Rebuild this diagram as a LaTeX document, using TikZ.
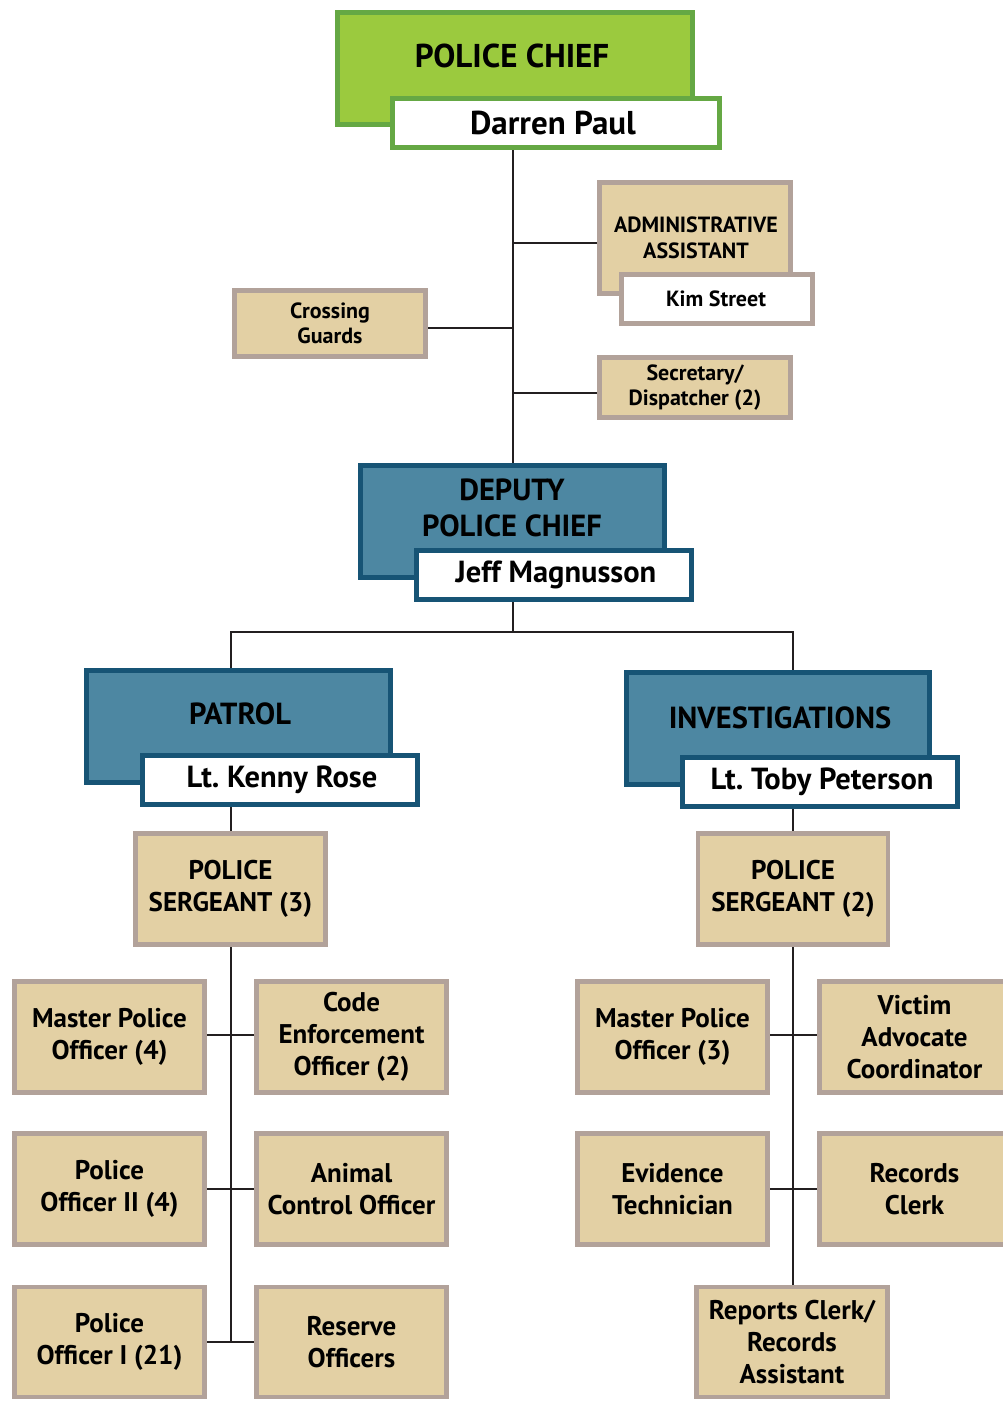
\documentclass[tikz,border=0pt]{standalone}
\usepackage{fontspec}
\setmainfont{PT Sans}
\usetikzlibrary{backgrounds}
\begin{document}
\definecolor{chieffill}{HTML}{9BCA3E}
\definecolor{chiefedge}{HTML}{65A844}
\definecolor{unitfill}{HTML}{4D87A2}
\definecolor{unitedge}{HTML}{175475}
\definecolor{stafffill}{HTML}{E3D0A4}
\definecolor{staffedge}{HTML}{B2A29A}
\definecolor{wire}{HTML}{231F20}
\begin{tikzpicture}[x=1pt,y=-1pt,
  every node/.style={inner sep=0pt,font=\bfseries,text=black},
  box/.style n args={2}{rectangle,minimum width=#1,minimum height=#2},
  chiefbox/.style={fill=chieffill,draw=chiefedge,line width=5pt},
  chiefname/.style={fill=white,draw=chiefedge,line width=4.5pt},
  unitbox/.style={fill=unitfill,draw=unitedge,line width=5pt},
  unitname/.style={fill=white,draw=unitedge,line width=4.5pt},
  staffbox/.style={fill=stafffill,draw=staffedge,line width=4.5pt,align=center},
  staffname/.style={fill=white,draw=staffedge,line width=4.5pt},
  bigtext/.style={font=\fontsize{33}{36}\selectfont\bfseries,align=center},
  unittext/.style={font=\fontsize{30.5}{36}\selectfont\bfseries,align=center},
  midtext/.style={font=\fontsize{27}{32}\selectfont\bfseries},
  smalltext/.style={font=\fontsize{22}{25.5}\selectfont\bfseries},
  wires/.style={draw=wire,line width=2pt}]
\useasboundingbox (0,0) rectangle (1003,1401);

% ---- boxes ----
\node[chiefbox,box={355}{112}] (chief) at (515,68.5) {};
\node[chiefname,box={327}{49}] (darren) at (556,123) {};
\node[bigtext] (chieft) at (512,56) {POLICE CHIEF};
\node[bigtext] (darrent) at (553,123) {Darren Paul};

\node[staffbox,box={191}{111}] (admin) at (695,238) {};
\node[smalltext,align=center] (admint) at (696,238) {ADMINISTRATIVE\\ASSISTANT};
\node[staffname,box={191}{49}] (kim) at (717,299) {};
\node[smalltext] (kimt) at (716,299) {Kim Street};

\node[staffbox,box={191}{66},smalltext] (guards) at (330,323.5) {Crossing\\Guards};
\node[staffbox,box={191}{60},smalltext] (secretary) at (695,387.5) {Secretary/\\Dispatcher (2)};

\node[unitbox,box={304}{112}] (deputy) at (512.5,521.5) {};
\node[unitname,box={275}{49}] (jeff) at (554,575) {};
\node[unittext] (deputyt) at (512,508) {DEPUTY\\POLICE CHIEF};
\node[unittext] (jefft) at (556,575) {Jeff Magnusson};

\node[unitbox,box={304}{112}] (patrol) at (238.5,726.5) {};
\node[unitname,box={275}{49}] (kenny) at (280,780) {};
\node[unittext] (patrolt) at (240,714) {PATROL};
\node[unittext] (kennyt) at (282,780) {Lt.\ Kenny Rose};

\node[unitbox,box={303}{112}] (invest) at (778,728.5) {};
\node[unitname,box={275}{49}] (toby) at (820,782) {};
\node[unittext] (investt) at (780,718) {INVESTIGATIONS};
\node[unittext] (tobyt) at (822,782) {Lt.\ Toby Peterson};

% ---- patrol staff ----
\node[staffbox,box={190}{111},midtext] (sgtA) at (230.5,889) {POLICE\\SERGEANT (3)};
\node[staffbox,box={190}{111},midtext] (mpoA) at (109.5,1037) {Master Police\\Officer (4)};
\node[staffbox,box={190}{111},midtext] (code) at (351.5,1037) {Code\\Enforcement\\Officer (2)};
\node[staffbox,box={190}{111},midtext] (po2) at (109.5,1189) {Police\\Officer II (4)};
\node[staffbox,box={190}{111},midtext] (animal) at (351.5,1189) {Animal\\Control Officer};
\node[staffbox,box={190}{110},midtext] (po1) at (109.5,1342) {Police\\Officer I (21)};
\node[staffbox,box={190}{110},midtext] (reserve) at (351.5,1342) {Reserve\\Officers};

% ---- investigations staff ----
\node[staffbox,box={190}{111},midtext] (sgtB) at (793,889) {POLICE\\SERGEANT (2)};
\node[staffbox,box={190}{111},midtext] (mpoB) at (672.5,1037) {Master Police\\Officer (3)};
\node[staffbox,box={190}{111},midtext] (victim) at (914.5,1037) {Victim\\Advocate\\Coordinator};
\node[staffbox,box={190}{111},midtext] (evidence) at (672.5,1189) {Evidence\\Technician};
\node[staffbox,box={190}{111},midtext] (records) at (914.5,1189) {Records\\Clerk};
\node[staffbox,box={191}{110},midtext] (reports) at (792,1342) {Reports Clerk/\\Records\\Assistant};

% ---- connectors (behind the boxes) ----
\coordinate (branch) at (512.5,632);
\begin{scope}[on background layer]
  % chief's spine down to the deputy
  \draw[wires] (deputy.north |- darren.south) -- (deputy.north);
  \draw[wires] ([yshift=-5pt]admin.west) -- ([yshift=-5pt]admin.west -| deputy.north);
  \draw[wires] ([yshift=-4.5pt]guards.east) -- ([yshift=-4.5pt]guards.east -| deputy.north);
  \draw[wires] ([yshift=-5.5pt]secretary.west) -- ([yshift=-5.5pt]secretary.west -| deputy.north);
  % deputy to the two divisions
  \draw[wires] (deputy.north |- jeff.south) -- (branch);
  \draw[wires] (sgtA.north |- patrol.north) -- (sgtA.north |- branch)
               -- (sgtB.north |- branch) -- (sgtB.north |- invest.north);
  \draw[wires] (sgtA.north |- kenny.south) -- (sgtA.north);
  \draw[wires] (sgtB.north |- toby.south) -- (sgtB.north);
  % patrol staff
  \draw[wires] (sgtA.south) -- (sgtA.south |- po1.east);
  \draw[wires] ([yshift=2pt]mpoA.east) -- ([yshift=2pt]code.west);
  \draw[wires] (po2.east) -- (animal.west);
  \draw[wires] (po1.east) -- (reserve.west);
  % investigations staff
  \draw[wires] (sgtB.south) -- (sgtB.south |- reports.north);
  \draw[wires] ([yshift=2pt]mpoB.east) -- ([yshift=2pt]victim.west);
  \draw[wires] (evidence.east) -- (records.west);
\end{scope}
\end{tikzpicture}
\end{document}
